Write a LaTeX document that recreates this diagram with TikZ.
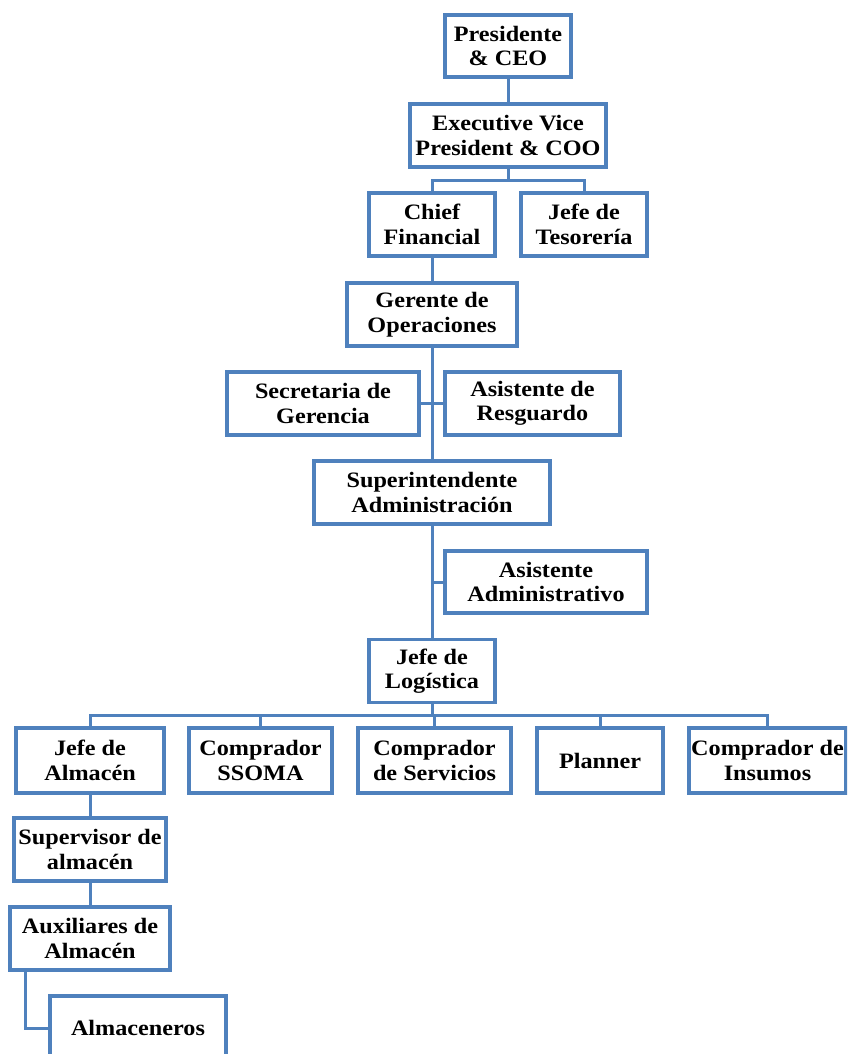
\documentclass[tikz,border=0pt]{standalone}
\usepackage{fontspec}
\newfontfamily\boxfont{Liberation Serif Bold}[FakeStretch=1.1]
\definecolor{boxblue}{HTML}{4F81BD}
\begin{document}
\begin{tikzpicture}[x=1pt,y=-1pt,
  unit/.style={draw=boxblue, line width=3.2pt, fill=white, rectangle,
    inner sep=0pt, align=center,
    font=\boxfont\fontsize{22}{24.5}\selectfont},
  link/.style={draw=boxblue, line width=3pt}]
\useasboundingbox (0,0) rectangle (847,1054);
\clip (0,0) rectangle (847,1054);

% branch points of the connectors
\coordinate (b1) at (508,180);
\coordinate (b2) at (432,715);

% boxes: center, width, height
\node[unit, minimum width=126pt, minimum height=62pt] (pres) at (508,46) {Presidente\\\& CEO};
\node[unit, minimum width=196pt, minimum height=63pt] (evp) at (508,135.5) {Executive Vice\\President \& COO};
\node[unit, minimum width=126pt, minimum height=63pt] (cf) at (432,224.5) {Chief\\Financial};
\node[unit, minimum width=126pt, minimum height=63pt] (tes) at (584,224.5) {Jefe de\\Tesorería};
\node[unit, minimum width=170pt, minimum height=63pt] (ger) at (432,314.5) {Gerente de\\Operaciones};
\node[unit, minimum width=192pt, minimum height=63pt] (sec) at (323,403.5) {Secretaria de\\Gerencia};
\node[unit, minimum width=175pt, minimum height=63pt] (res) at (532.5,403.5) {Asistente de\\Resguardo};
\node[unit, minimum width=236pt, minimum height=63pt] (sup) at (432,492.5) {Superintendente\\Administración};
\node[unit, minimum width=202pt, minimum height=62pt] (aa) at (546,582) {Asistente\\Administrativo};
\node[unit, minimum width=126pt, minimum height=63pt] (log) at (432,671) {Jefe de\\Logística};

\node[unit, minimum width=148pt, minimum height=65pt] (alm) at (90,760.5) {Jefe de\\Almacén};
\node[unit, minimum width=143pt, minimum height=65pt] (ssoma) at (260.5,760.5) {Comprador\\SSOMA};
\node[unit, minimum width=153pt, minimum height=65pt] (serv) at (434.5,760.5) {Comprador\\de Servicios};
\node[unit, minimum width=126pt, minimum height=65pt] (plan) at (600,760.5) {Planner};
\node[unit, minimum width=157pt, minimum height=65pt] (ins) at (767.5,760.5) {Comprador de\\Insumos};

\node[unit, minimum width=152pt, minimum height=63pt] (supv) at (90,849.5) {Supervisor de\\almacén};
\node[unit, minimum width=160pt, minimum height=63pt] (aux) at (90,938.5) {Auxiliares de\\Almacén};
\node[unit, minimum width=176pt, minimum height=64pt] (almc) at (138,1028) {Almaceneros};

\coordinate (auxdrop) at ([xshift=17pt]aux.south west);

% connectors
\draw[link] (pres.south) -- (evp.north);
\draw[link] (evp.south) -- (b1);
\draw[link] (b1) -| (cf.north);
\draw[link] (b1) -| (tes.north);
\draw[link] (cf.south) -- (ger.north);
\draw[link] (ger.south) -- (sup.north);
\draw[link] (sec.east) -- (sec.east -| ger.south);
\draw[link] (res.west) -- (res.west -| ger.south);
\draw[link] (sup.south) -- (log.north);
\draw[link] (aa.west) -- (aa.west -| sup.south);
\draw[link] (log.south) -- (b2);
\draw[link] (b2) -| (alm.north);
\draw[link] (b2) -| (ssoma.north);
\draw[link] (b2) -| (serv.north);
\draw[link] (b2) -| (plan.north);
\draw[link] (b2) -| (ins.north);
\draw[link] (alm.south) -- (supv.north);
\draw[link] (supv.south) -- (aux.north);
\draw[link] (auxdrop) |- (almc.west);
\end{tikzpicture}
\end{document}
